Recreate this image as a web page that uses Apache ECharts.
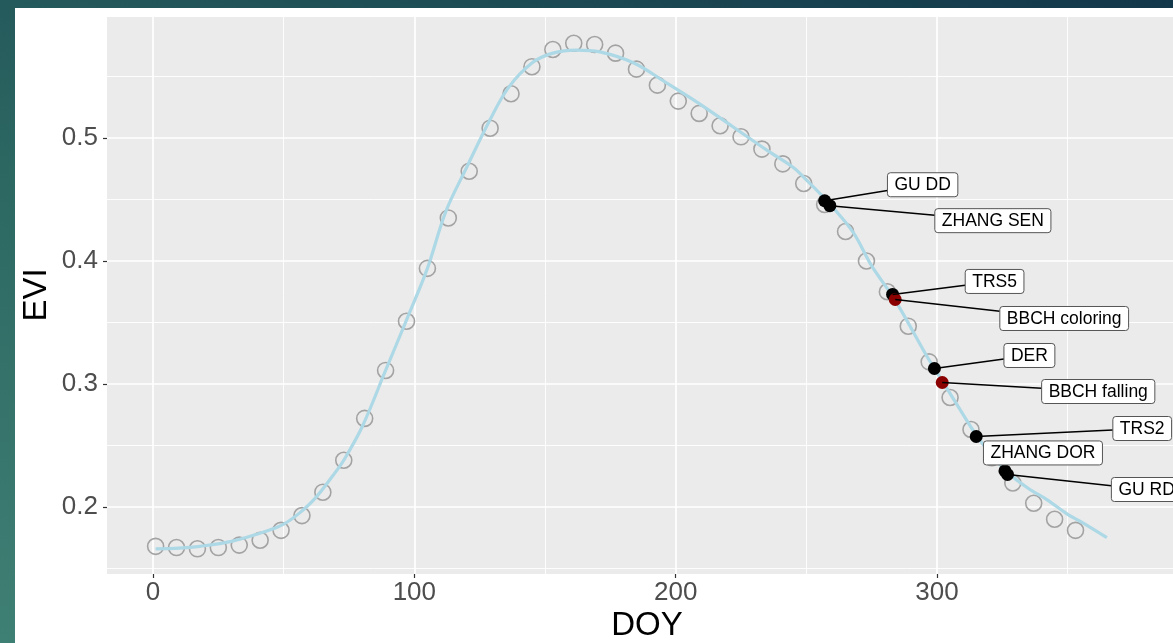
<!DOCTYPE html>
<html>
<head>
<meta charset="utf-8">
<title>EVI phenology</title>
<script src="https://cdn.jsdelivr.net/npm/echarts@6/dist/echarts.min.js"></script>
<style>
  html, body { margin: 0; padding: 0; width: 1173px; height: 643px; overflow: hidden; }
  body { background: linear-gradient(20deg, #3f8074 0%, #2c6762 45%, #12374a 100%); position: relative; }
  #sheet { position: absolute; left: 15px; top: 8px; right: 0; bottom: 0; background: #ffffff; }
  #chart { position: absolute; left: 0; top: 0; width: 1173px; height: 643px; }
</style>
</head>
<body>
<div id="sheet"></div>
<div id="chart"></div>
<script>
// Observed EVI composites (8-day)
const obsDoy = [1, 9, 17, 25, 33, 41, 49, 57, 65, 73, 81, 89, 97, 105, 113, 121, 129, 137, 145, 153,
  161, 169, 177, 185, 193, 201, 209, 217, 225, 233, 241, 249, 257, 265, 273, 281, 289, 297, 305, 313,
  321, 329, 337, 345, 353];
const obsEvi = [0.168, 0.167, 0.166, 0.167, 0.169, 0.173, 0.181, 0.193, 0.212, 0.238, 0.272, 0.311,
  0.351, 0.394, 0.435, 0.473, 0.508, 0.536, 0.558, 0.572, 0.577, 0.576, 0.569, 0.556, 0.543, 0.530,
  0.520, 0.510, 0.501, 0.491, 0.479, 0.463, 0.446, 0.424, 0.400, 0.375, 0.347, 0.318, 0.289, 0.263,
  0.240, 0.2195, 0.203, 0.190, 0.181];

// Fitted seasonal curve
const fitDoy = [1, 10, 18, 30, 43, 50, 56, 62, 69, 73, 80, 89, 97, 105, 112, 120, 129, 136, 145, 153,
  162, 171, 184, 196, 209, 222, 235, 245, 250, 257, 260, 268, 275, 284, 296, 301, 308, 315, 321, 327,
  335, 342, 350, 355, 365];
const fitEvi = [0.166, 0.1665, 0.168, 0.172, 0.180, 0.186, 0.195, 0.207, 0.226, 0.238, 0.265, 0.311,
  0.352, 0.394, 0.440, 0.476, 0.515, 0.541, 0.561, 0.569, 0.5715, 0.570, 0.561, 0.5455, 0.528, 0.509,
  0.490, 0.476, 0.466, 0.451, 0.444, 0.423, 0.396, 0.368, 0.323, 0.306, 0.282, 0.2585, 0.242, 0.228,
  0.215, 0.206, 0.194, 0.188, 0.175];

// Autumn phenology events
const eventNames = ['GU DD', 'ZHANG SEN', 'TRS5', 'BBCH coloring', 'DER', 'BBCH falling', 'TRS2', 'ZHANG DOR', 'GU RD'];
const eventDoy = [257, 259, 283, 284, 299, 302, 315, 326, 327];
const eventEvi = [0.449, 0.445, 0.3728, 0.3687, 0.3126, 0.3012, 0.2573, 0.2293, 0.2264];
const eventSource = ['model', 'model', 'model', 'ground', 'model', 'ground', 'model', 'model', 'model'];

// Axis ticks
const xMajor = [0, 100, 200, 300];
const xMinor = [50, 150, 250, 350];
const yMajor = [0.2, 0.3, 0.4, 0.5];
const yMinor = [0.15, 0.25, 0.35, 0.45, 0.55];

// Label placement (pixel offset of each label centre from its point)
const labelOffsets = [[98, -16], [163, 15], [102, -13], [169, 19], [95, -13], [156, 9], [166, -8], [38, -18], [139, 15]];

const FONT = '"Liberation Sans", Arial, Helvetica, sans-serif';
const LABEL_SIZE = 17.5;
const sourceColor = { model: '#000000', ground: '#8b0000' };

const measureCtx = document.createElement('canvas').getContext('2d');
measureCtx.font = LABEL_SIZE + 'px ' + FONT;
function textWidth(t) { return measureCtx.measureText(t).width; }

function renderLabel(params, api) {
  const i = api.value(2);
  const p = api.coord([api.value(0), api.value(1)]);
  const off = labelOffsets[i];
  const cx = p[0] + off[0], cy = p[1] + off[1];
  const w = textWidth(eventNames[i]) + 14, h = 24;
  const rx = cx - w / 2, ry = cy - h / 2;
  // segment from the point to where it enters the label box; very short ones are dropped
  const dx = cx - p[0], dy = cy - p[1];
  const tx = dx !== 0 ? Math.min((rx - p[0]) / dx, (rx + w - p[0]) / dx) : -Infinity;
  const ty = dy !== 0 ? Math.min((ry - p[1]) / dy, (ry + h - p[1]) / dy) : -Infinity;
  const t = Math.max(tx, ty, 0);
  const ex = p[0] + t * dx, ey = p[1] + t * dy;
  const children = [];
  if (Math.hypot(ex - p[0], ey - p[1]) > 20) {
    children.push({ type: 'line', shape: { x1: p[0], y1: p[1], x2: ex, y2: ey },
      style: { stroke: '#000', lineWidth: 1.5 } });
  }
  children.push({ type: 'rect', shape: { x: rx, y: ry, width: w, height: h, r: 3 },
    style: { fill: '#ffffff', stroke: '#555555', lineWidth: 1 } });
  children.push({ type: 'text', x: cx, y: cy + 0.5,
    style: { text: eventNames[i], fill: '#000', fontSize: LABEL_SIZE, fontFamily: FONT,
      align: 'center', verticalAlign: 'middle' } });
  return { type: 'group', children: children };
}

const chart = echarts.init(document.getElementById('chart'), null, { renderer: 'canvas' });

const X_MIN = -17.6, X_MAX = 390.3, Y_MIN = 0.1455, Y_MAX = 0.5984;

chart.setOption({
  animation: false,
  backgroundColor: 'transparent',
  grid: { left: 107, top: 17, right: 0, bottom: 69, show: true, backgroundColor: '#ebebeb',
    borderWidth: 0, containLabel: false, outerBoundsMode: 'none' },
  xAxis: [{
    type: 'value', min: X_MIN, max: X_MAX,
    axisLine: { show: false, onZero: false },
    axisTick: { show: true, customValues: xMajor, length: 4, lineStyle: { color: '#333333', width: 1.2 } },
    axisLabel: { customValues: xMajor, fontSize: 26, color: '#4d4d4d', fontFamily: FONT, margin: 6 },
    splitLine: { show: true, lineStyle: { color: '#ffffff', width: 1.7 } }
  }, {
    type: 'value', min: X_MIN, max: X_MAX, position: 'bottom',
    axisLine: { show: false, onZero: false },
    axisTick: { show: false, customValues: xMinor },
    axisLabel: { show: false, customValues: xMinor },
    splitLine: { show: true, lineStyle: { color: '#ffffff', width: 0.9 } }
  }],
  yAxis: [{
    type: 'value', min: Y_MIN, max: Y_MAX,
    axisLine: { show: false, onZero: false },
    axisTick: { show: true, customValues: yMajor, length: 4, lineStyle: { color: '#333333', width: 1.2 } },
    axisLabel: { customValues: yMajor, fontSize: 26, color: '#4d4d4d', fontFamily: FONT, margin: 9,
      padding: [4, 0, 0, 0], formatter: v => v.toFixed(1) },
    splitLine: { show: true, lineStyle: { color: '#ffffff', width: 1.7 } }
  }, {
    type: 'value', min: Y_MIN, max: Y_MAX, position: 'left',
    axisLine: { show: false, onZero: false },
    axisTick: { show: false, customValues: yMinor },
    axisLabel: { show: false, customValues: yMinor },
    splitLine: { show: true, lineStyle: { color: '#ffffff', width: 0.9 } }
  }],
  graphic: [
    { type: 'text', x: 647, y: 626, style: { text: 'DOY', fontSize: 33, fontFamily: FONT, fill: '#000',
      align: 'center', verticalAlign: 'middle' } },
    { type: 'text', x: 37, y: 295, rotation: Math.PI / 2, style: { text: 'EVI', fontSize: 33, fontFamily: FONT,
      fill: '#000', align: 'center', verticalAlign: 'middle' } }
  ],
  series: [
    {
      name: 'observed', type: 'scatter', symbol: 'circle', symbolSize: 16, z: 2,
      data: obsDoy.map((d, i) => [d, obsEvi[i]]),
      itemStyle: { color: 'rgba(0,0,0,0)', borderColor: '#a3a3a3', borderWidth: 1.6, opacity: 1 },
      silent: true
    },
    {
      name: 'fit', type: 'line', smooth: 0.35, showSymbol: false, z: 3,
      data: fitDoy.map((d, i) => [d, fitEvi[i]]),
      lineStyle: { color: '#add8e6', width: 3.2 },
      silent: true
    },
    {
      name: 'events', type: 'scatter', symbol: 'circle', symbolSize: 13, z: 4,
      data: eventDoy.map((d, i) => ({ value: [d, eventEvi[i]],
        itemStyle: { color: sourceColor[eventSource[i]], opacity: 1 } })),
      silent: true
    },
    {
      name: 'labels', type: 'custom', clip: false, silent: true, z: 5,
      renderItem: renderLabel,
      data: eventDoy.map((d, i) => [d, eventEvi[i], i])
    }
  ]
});
</script>
</body>
</html>
